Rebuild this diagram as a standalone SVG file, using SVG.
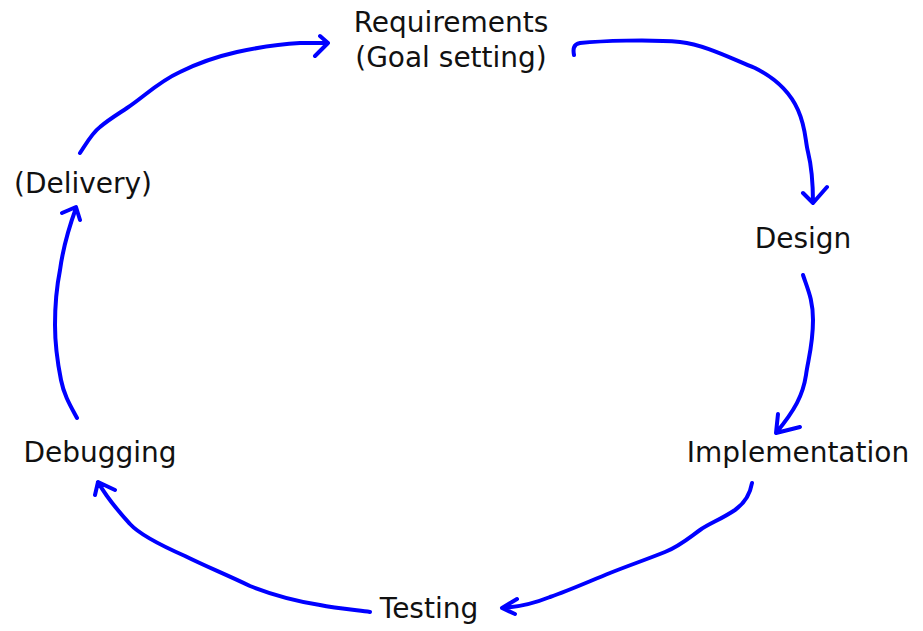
<svg xmlns="http://www.w3.org/2000/svg" width="923" height="631" viewBox="0 0 923 631">
<style>
.lbl{font-family:"DejaVu Sans","Verdana",sans-serif;font-size:28px;fill:#111;text-anchor:middle}
.c{fill:none;stroke:#0000ff;stroke-width:4;stroke-linecap:round;stroke-linejoin:round}
</style>
<rect width="923" height="631" fill="#fff"/>
<g id="n-requirements"><text class="lbl" x="451" y="32">Requirements</text><text class="lbl" x="451" y="67">(Goal setting)</text></g>
<g id="n-design"><text class="lbl" x="803" y="248">Design</text></g>
<g id="n-implementation"><text class="lbl" x="798" y="462">Implementation</text></g>
<g id="n-testing"><text class="lbl" x="429" y="618">Testing</text></g>
<g id="n-debugging"><text class="lbl" x="100" y="462">Debugging</text></g>
<g id="n-delivery"><text class="lbl" x="83" y="193">(Delivery)</text></g>
<g id="connectors">
<path class="c" d="M80,153 C86,144 92,133 100,127 C108,120 118,114 127,108 C145,96 158,82 180,72 C200,62 215,57 237,52 C260,47 280,44 300,43 C312,43 320,43 328,43 M320,36 L328,43 L315,56"/>
<path class="c" d="M574,55 C573,50 573,44 580,43 C600,41 650,39 680,42 C705,45 728,57 755,68 C775,78 790,92 798,110 C806,128 805,140 808,152 C812,168 813,188 813,203 M803,193 L813,203 L827,187"/>
<path class="c" d="M803,275 C808,290 813,300 813,320 C813,345 808,360 806,375 C803,395 795,410 776,433 M778,414 L776,433 L800,427"/>
<path class="c" d="M752,483 C750,495 745,503 735,510 C720,520 710,523 700,530 C690,537 680,546 665,552 C645,560 630,565 610,573 C590,581 570,590 550,597 C535,603 520,607 502,608 M517,599 L502,608 L515,614"/>
<path class="c" d="M370,612 C355,610 335,608 320,605 C295,601 270,594 250,586 C225,574 205,566 185,556 C160,545 140,535 130,524 C120,513 108,500 98,482 M95,495 L98,482 L115,490"/>
<path class="c" d="M77,418 C70,405 64,395 61,380 C57,360 55,345 55,325 C55,305 57,285 60,270 C63,248 68,230 76,208 M62,213 L76,207 L80,220"/>
</g>
</svg>
